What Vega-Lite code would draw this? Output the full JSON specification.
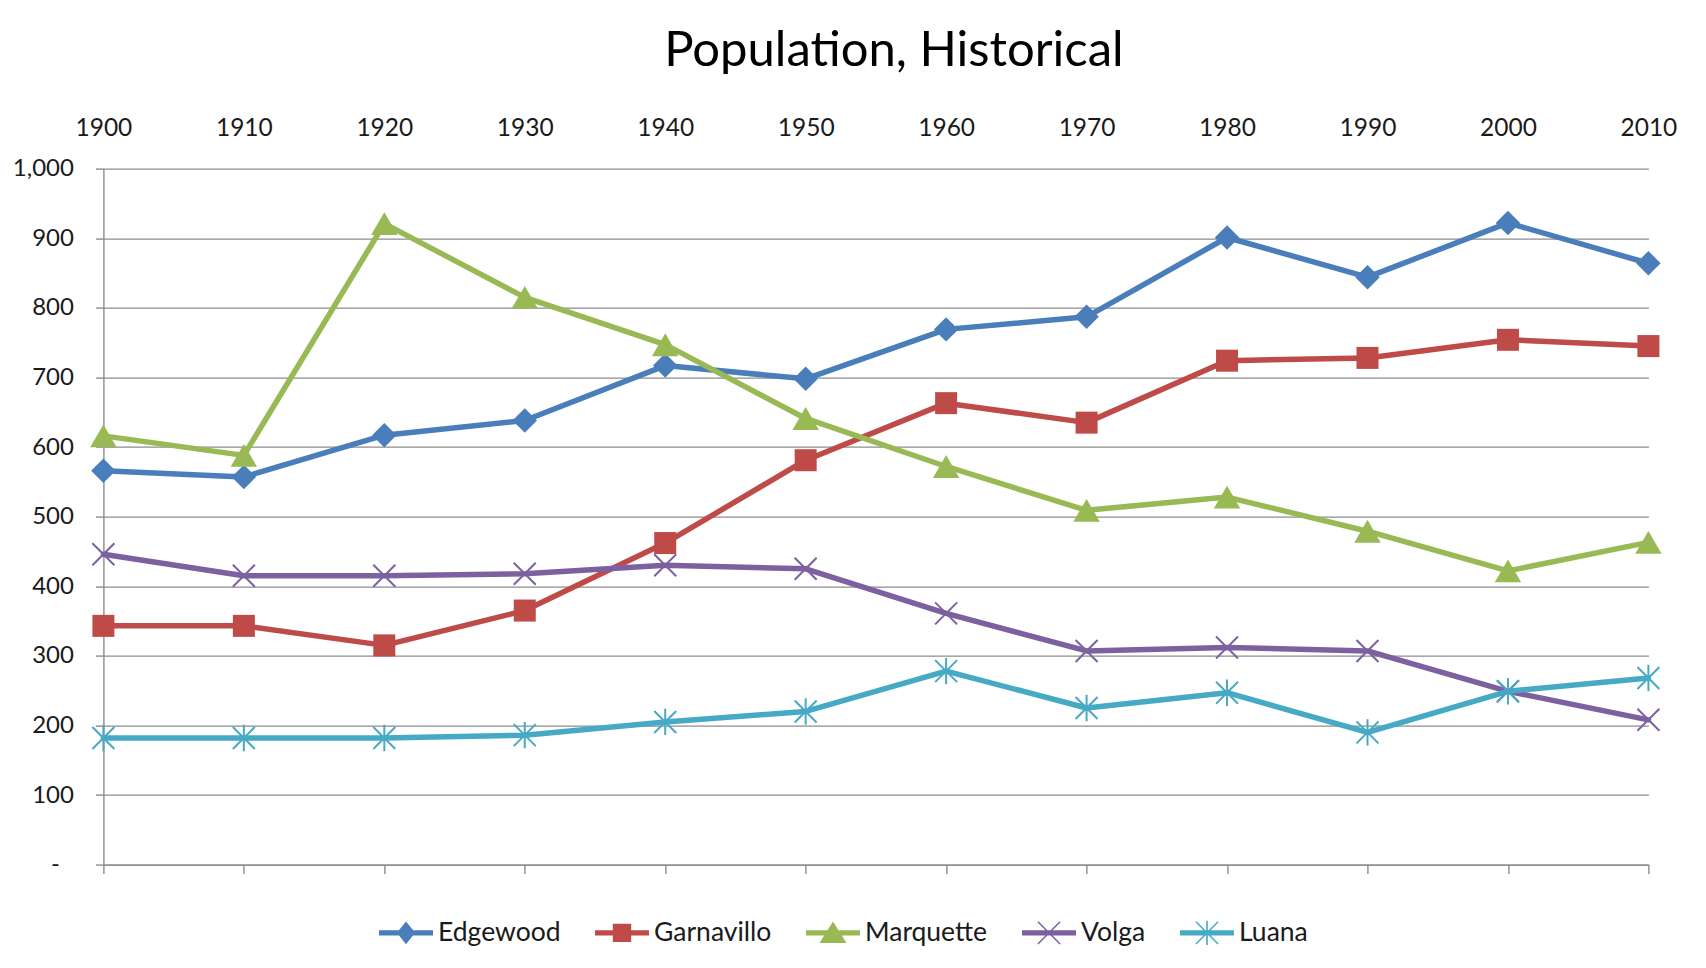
{
  "$schema": "https://vega.github.io/schema/vega-lite/v6.json",
  "width": 1545,
  "height": 696,
  "autosize": {"type": "none"},
  "padding": {"left": 103.4, "top": 168.6, "right": 57.6, "bottom": 103.4},
  "background": "white",
  "config": {"view": {"stroke": null}, "font": "Lato"},
  "title": {
    "text": "Population, Historical",
    "font": "Lato",
    "fontSize": 49,
    "fontWeight": "normal",
    "color": "#000000",
    "anchor": "middle",
    "frame": "group",
    "dx": 18,
    "offset": 40
  },
  "data": {
    "values": [
      {"town": "Edgewood", "year": 1900, "pop": 566},
      {"town": "Edgewood", "year": 1910, "pop": 557},
      {"town": "Edgewood", "year": 1920, "pop": 617},
      {"town": "Edgewood", "year": 1930, "pop": 638},
      {"town": "Edgewood", "year": 1940, "pop": 717},
      {"town": "Edgewood", "year": 1950, "pop": 698},
      {"town": "Edgewood", "year": 1960, "pop": 769},
      {"town": "Edgewood", "year": 1970, "pop": 787},
      {"town": "Edgewood", "year": 1980, "pop": 901},
      {"town": "Edgewood", "year": 1990, "pop": 844},
      {"town": "Edgewood", "year": 2000, "pop": 922},
      {"town": "Edgewood", "year": 2010, "pop": 864},
      {"town": "Garnavillo", "year": 1900, "pop": 343},
      {"town": "Garnavillo", "year": 1910, "pop": 343},
      {"town": "Garnavillo", "year": 1920, "pop": 315},
      {"town": "Garnavillo", "year": 1930, "pop": 365},
      {"town": "Garnavillo", "year": 1940, "pop": 462},
      {"town": "Garnavillo", "year": 1950, "pop": 581},
      {"town": "Garnavillo", "year": 1960, "pop": 663},
      {"town": "Garnavillo", "year": 1970, "pop": 635},
      {"town": "Garnavillo", "year": 1980, "pop": 724},
      {"town": "Garnavillo", "year": 1990, "pop": 728},
      {"town": "Garnavillo", "year": 2000, "pop": 754},
      {"town": "Garnavillo", "year": 2010, "pop": 745},
      {"town": "Marquette", "year": 1900, "pop": 616},
      {"town": "Marquette", "year": 1910, "pop": 588},
      {"town": "Marquette", "year": 1920, "pop": 921},
      {"town": "Marquette", "year": 1930, "pop": 815},
      {"town": "Marquette", "year": 1940, "pop": 747},
      {"town": "Marquette", "year": 1950, "pop": 641},
      {"town": "Marquette", "year": 1960, "pop": 572},
      {"town": "Marquette", "year": 1970, "pop": 509},
      {"town": "Marquette", "year": 1980, "pop": 528},
      {"town": "Marquette", "year": 1990, "pop": 479},
      {"town": "Marquette", "year": 2000, "pop": 422},
      {"town": "Marquette", "year": 2010, "pop": 463},
      {"town": "Volga", "year": 1900, "pop": 446},
      {"town": "Volga", "year": 1910, "pop": 415},
      {"town": "Volga", "year": 1920, "pop": 415},
      {"town": "Volga", "year": 1930, "pop": 418},
      {"town": "Volga", "year": 1940, "pop": 430},
      {"town": "Volga", "year": 1950, "pop": 425},
      {"town": "Volga", "year": 1960, "pop": 361},
      {"town": "Volga", "year": 1970, "pop": 307},
      {"town": "Volga", "year": 1980, "pop": 312},
      {"town": "Volga", "year": 1990, "pop": 307},
      {"town": "Volga", "year": 2000, "pop": 249},
      {"town": "Volga", "year": 2010, "pop": 208},
      {"town": "Luana", "year": 1900, "pop": 182},
      {"town": "Luana", "year": 1910, "pop": 182},
      {"town": "Luana", "year": 1920, "pop": 182},
      {"town": "Luana", "year": 1930, "pop": 186},
      {"town": "Luana", "year": 1940, "pop": 205},
      {"town": "Luana", "year": 1950, "pop": 220},
      {"town": "Luana", "year": 1960, "pop": 278},
      {"town": "Luana", "year": 1970, "pop": 225},
      {"town": "Luana", "year": 1980, "pop": 247},
      {"town": "Luana", "year": 1990, "pop": 190},
      {"town": "Luana", "year": 2000, "pop": 249},
      {"town": "Luana", "year": 2010, "pop": 268}
    ]
  },
  "encoding": {
    "y": {
      "field": "pop",
      "type": "quantitative",
      "scale": {"domain": [0, 1000], "nice": false, "zero": true},
      "axis": {
        "title": null,
        "values": [0, 100, 200, 300, 400, 500, 600, 700, 800, 900, 1000],
        "labelExpr": "datum.value === 0 ? '-' : format(datum.value, ',')",
        "labelFont": "Lato",
        "labelFontSize": 24,
        "labelColor": "#1a1a1a",
        "labelPadding": {"condition": {"test": "datum.value === 0", "value": 36}, "value": 22},
        "tickSize": 8,
        "tickColor": "#8c8c8c",
        "tickWidth": 1.4,
        "domainColor": "#8c8c8c",
        "domainWidth": 1.4,
        "grid": true,
        "gridColor": "#8c8c8c",
        "gridWidth": 1.4
      }
    },
    "color": {
      "field": "town",
      "type": "nominal",
      "scale": {
        "domain": ["Edgewood", "Garnavillo", "Marquette", "Volga", "Luana"],
        "range": ["#4A7EBB", "#BE4B48", "#98B954", "#7D60A0", "#46AAC5"]
      },
      "legend": {
        "orient": "none",
        "legendX": 275.6,
        "legendY": 737,
        "direction": "horizontal",
        "title": null,
        "padding": 0,
        "symbolSize": 2916,
        "labelFont": "Lato",
        "labelFontSize": 26.5,
        "labelColor": "#1a1a1a",
        "labelOffset": 5,
        "columnPadding": 34,
        "encode": {
          "symbols": {
            "update": {
              "shape": {"signal": "datum.value === 'Edgewood' ? 'M-1,-0.1L1,-0.1L1,0.1L-1,0.1Z M0,-0.42L0.34,0L0,0.42L-0.34,0Z' : datum.value === 'Garnavillo' ? 'M-1,-0.1L1,-0.1L1,0.1L-1,0.1Z M-0.34,-0.34L0.34,-0.34L0.34,0.34L-0.34,0.34Z' : datum.value === 'Marquette' ? 'M-1,-0.1L1,-0.1L1,0.1L-1,0.1Z M0,-0.42L0.5,0.38L-0.5,0.38Z' : datum.value === 'Volga' ? 'M-1,-0.1L1,-0.1L1,0.1L-1,0.1Z M-0.39,-0.43L0.43,0.39L0.39,0.43L-0.43,-0.39Z M-0.43,0.39L0.39,-0.43L0.43,-0.39L-0.39,0.43Z' : 'M-1,-0.1L1,-0.1L1,0.1L-1,0.1Z M-0.39,-0.43L0.43,0.39L0.39,0.43L-0.43,-0.39Z M-0.43,0.39L0.39,-0.43L0.43,-0.39L-0.39,0.43Z M-0.03,-0.45L0.03,-0.45L0.03,0.45L-0.03,0.45Z'"},
              "fill": {"signal": "scale('color', datum.value)"},
              "stroke": {"value": "transparent"},
              "strokeWidth": {"value": 0},
              "opacity": {"value": 1},
              "size": {"value": 2916}
            }
          }
        }
      }
    }
  },
  "layer": [
    {
      "mark": {"type": "line", "strokeWidth": 5.5, "strokeJoin": "round", "strokeCap": "round"},
      "encoding": {
        "x": {
          "field": "year",
          "type": "quantitative",
          "scale": {"domain": [1900, 2010], "nice": false, "zero": false},
          "axis": {
            "orient": "bottom",
            "title": null,
            "labels": false,
            "grid": false,
            "values": [1900, 1910, 1920, 1930, 1940, 1950, 1960, 1970, 1980, 1990, 2000, 2010],
            "tickSize": 9,
            "tickColor": "#8c8c8c",
            "tickWidth": 1.4,
            "domainColor": "#8c8c8c",
            "domainWidth": 1.4
          }
        }
      }
    },
    {
      "transform": [{"filter": "datum.town === 'Edgewood'"}],
      "mark": {"type": "point", "shape": "diamond", "size": 600, "filled": true, "opacity": 1},
      "encoding": {
        "x": {
          "field": "year",
          "type": "quantitative",
          "axis": {
            "orient": "top",
            "title": null,
            "grid": false,
            "domain": false,
            "ticks": false,
            "values": [1900, 1910, 1920, 1930, 1940, 1950, 1960, 1970, 1980, 1990, 2000, 2010],
            "format": "d",
            "labelFlush": false,
            "labelOverlap": false,
            "labelFont": "Lato",
            "labelFontSize": 24.5,
            "labelColor": "#1a1a1a",
            "labelPadding": 28
          }
        }
      }
    },
    {
      "transform": [{"filter": "datum.town === 'Garnavillo'"}],
      "mark": {"type": "point", "shape": "square", "size": 484, "filled": true, "opacity": 1},
      "encoding": {"x": {"field": "year", "type": "quantitative", "axis": null}}
    },
    {
      "transform": [{"filter": "datum.town === 'Marquette'"}],
      "mark": {"type": "point", "shape": "triangle-up", "size": 700, "filled": true, "opacity": 1},
      "encoding": {"x": {"field": "year", "type": "quantitative", "axis": null}}
    },
    {
      "transform": [{"filter": "datum.town === 'Volga'"}],
      "mark": {"type": "point", "shape": "M-1,-1L1,1M-1,1L1,-1", "size": 484, "filled": false, "strokeWidth": 2, "opacity": 1},
      "encoding": {"x": {"field": "year", "type": "quantitative", "axis": null}}
    },
    {
      "transform": [{"filter": "datum.town === 'Luana'"}],
      "mark": {"type": "point", "shape": "M-1,-1L1,1M-1,1L1,-1M0,-1.2L0,1.2", "size": 484, "filled": false, "strokeWidth": 2, "opacity": 1},
      "encoding": {"x": {"field": "year", "type": "quantitative", "axis": null}}
    }
  ],
  "resolve": {"scale": {"x": "shared"}, "axis": {"x": "independent"}}
}
